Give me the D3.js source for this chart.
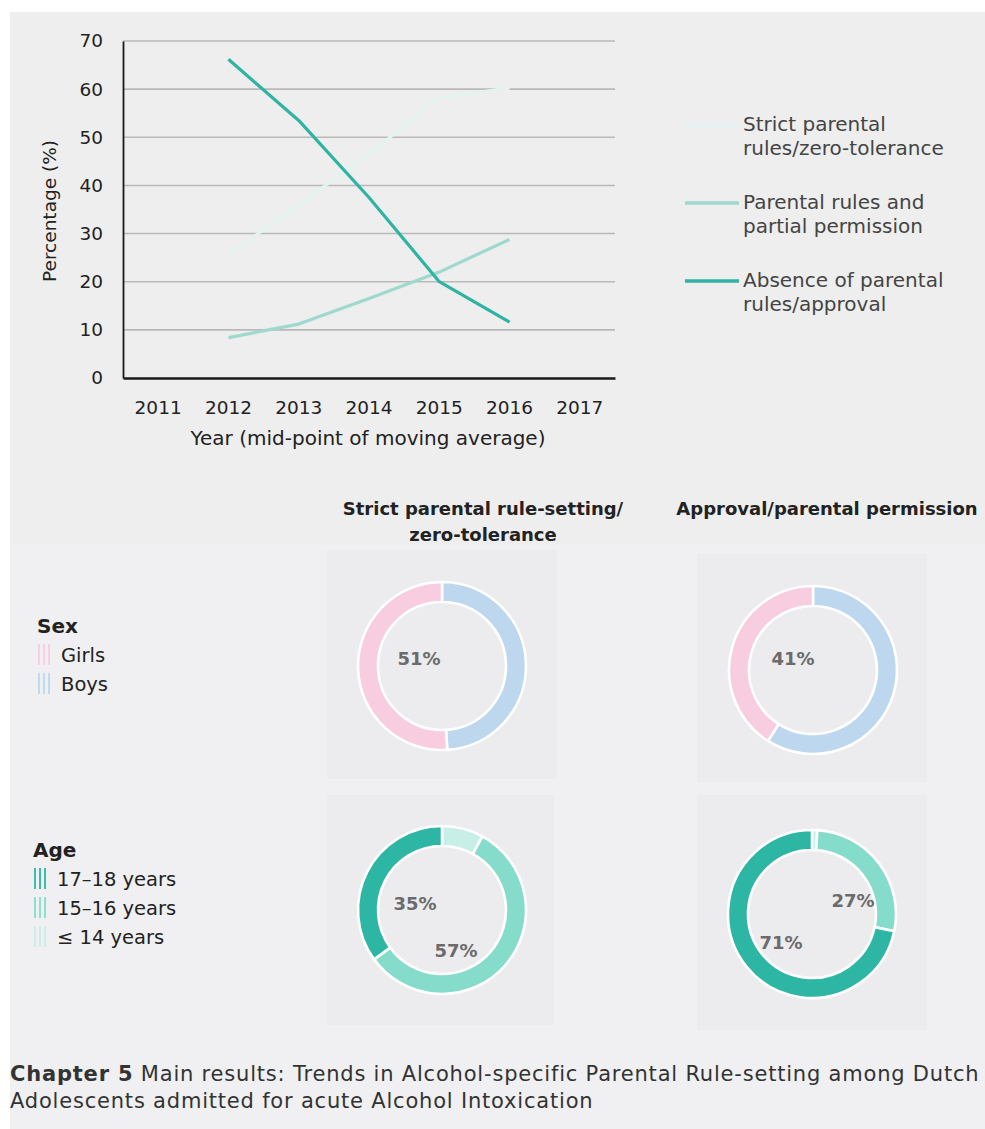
<!DOCTYPE html>
<html>
<head>
<meta charset="utf-8">
<script src="https://cdn.jsdelivr.net/npm/d3@7/dist/d3.min.js"></script>
<style>
  html, body { margin: 0; padding: 0; background: #ffffff; }
  svg { display: block; font-family: "DejaVu Sans", sans-serif; }
</style>
</head>
<body>
<svg id="chart" width="985" height="1129"></svg>
<script>
// ---- Trend data (3-year moving average, percentage of adolescents) ----
const axisYears = ["2011", "2012", "2013", "2014", "2015", "2016", "2017"];
const seriesYears = ["2012", "2013", "2014", "2015", "2016"];
const strictZeroTolerance = [25.6, 36, 46.5, 58.3, 60.2];
const partialPermission = [8.4, 11.2, 16.5, 22, 28.8];
const absenceOfRules = [66.2, 53.5, 37.5, 20, 11.6];
const yTickValues = [0, 10, 20, 30, 40, 50, 60, 70];
const seriesNames = [
  ["Strict parental", "rules/zero-tolerance"],
  ["Parental rules and", "partial permission"],
  ["Absence of parental", "rules/approval"]
];

// ---- Donut data ----
const sexCategories = ["Boys", "Girls"];          // clockwise from the top
const sexStrict = [49, 51];
const sexApproval = [59, 41];
const ageCategories = ["≤ 14 years", "15–16 years", "17–18 years"]; // clockwise from the top
const ageStrict = [8, 57, 35];
const ageApproval = [1, 27, 71];

const svg = d3.select("#chart");
const textDark = "#222222";

// ---- Backgrounds ----
svg.append("rect").attr("x", 10).attr("y", 12).attr("width", 975).attr("height", 533).attr("fill", "#eeeeee");
svg.append("rect").attr("x", 10).attr("y", 545).attr("width", 975).attr("height", 584).attr("fill", "#f0f0f2");

// ---- Line chart ----
const plot = { left: 123, right: 615, top: 41, bottom: 378 };
const x = d3.scaleBand().domain(axisYears).range([plot.left, plot.right]);
const y = d3.scaleLinear().domain([0, 70]).range([plot.bottom, plot.top]);
const lineColors = ["#e3f3ef", "#9fd9cd", "#2fb3a2"];

// gridlines
svg.append("g").selectAll("line").data(yTickValues.filter(v => v > 0)).join("line")
  .attr("x1", plot.left).attr("x2", plot.right)
  .attr("y1", d => y(d)).attr("y2", d => y(d))
  .attr("stroke", "#b9b9b9").attr("stroke-width", 1.6);

// axes
const yAxis = svg.append("g").attr("transform", `translate(${plot.left},0)`)
  .call(d3.axisLeft(y).tickValues(yTickValues).tickSize(0).tickPadding(20));
yAxis.select(".domain").attr("stroke", "#1a1a1a").attr("stroke-width", 1.8);
yAxis.selectAll("text").attr("font-size", 18.5).attr("fill", textDark).attr("font-family", "DejaVu Sans");

const xAxis = svg.append("g").attr("transform", `translate(0,${plot.bottom})`)
  .call(d3.axisBottom(x).tickSize(0).tickPadding(23));
xAxis.select(".domain").attr("stroke", "#1a1a1a").attr("stroke-width", 2.4);
xAxis.selectAll("text").attr("font-size", 18.5).attr("fill", textDark).attr("font-family", "DejaVu Sans");

// axis titles
svg.append("text").attr("x", (plot.left + plot.right) / 2 - 1).attr("y", 445)
  .attr("text-anchor", "middle").attr("font-size", 20).attr("fill", textDark)
  .text("Year (mid-point of moving average)");
svg.append("text").attr("transform", "translate(56,211) rotate(-90)")
  .attr("text-anchor", "middle").attr("font-size", 18.5).attr("fill", textDark)
  .text("Percentage (%)");

// series lines
const seriesValues = [strictZeroTolerance, partialPermission, absenceOfRules];
const line = d3.line()
  .x((d, i) => x(seriesYears[i]) + x.bandwidth() / 2)
  .y(d => y(d));
seriesValues.forEach((vals, k) => {
  svg.append("path").datum(vals).attr("d", line)
    .attr("fill", "none").attr("stroke", lineColors[k]).attr("stroke-width", 3.2)
    .attr("stroke-linejoin", "round");
});

// legend
const legendY = [125, 203, 281];
seriesNames.forEach((lines, k) => {
  const g = svg.append("g").attr("transform", `translate(685,${legendY[k]})`);
  g.append("line").attr("x1", 0).attr("x2", 54).attr("y1", 0).attr("y2", 0)
    .attr("stroke", lineColors[k]).attr("stroke-width", 3.5);
  lines.forEach((t, j) => {
    g.append("text").attr("x", 58).attr("y", 6 + j * 24)
      .attr("font-size", 20).attr("fill", "#444444").text(t);
  });
});

// ---- Donuts ----
const colHeaders = [
  { cx: 483, lines: ["Strict parental rule-setting/", "zero-tolerance"] },
  { cx: 827, lines: ["Approval/parental permission"] }
];
colHeaders.forEach(h => {
  h.lines.forEach((t, j) => {
    svg.append("text").attr("x", h.cx).attr("y", 515 + j * 26)
      .attr("text-anchor", "middle").attr("font-size", 18).attr("font-weight", 700)
      .attr("fill", textDark).text(t);
  });
});

const sexColor = d3.scaleOrdinal().domain(sexCategories).range(["#bdd7ee", "#f8cde0"]);
const ageColor = d3.scaleOrdinal().domain(ageCategories).range(["#c8eee8", "#86dccb", "#2db6a3"]);

const panels = [
  { box: [327, 550, 230, 229], cx: 442, cy: 666, cats: sexCategories, vals: sexStrict, color: sexColor,
    labels: [{ cat: "Girls", dx: -23, dy: -7 }] },
  { box: [697, 554, 230, 228], cx: 813, cy: 670, cats: sexCategories, vals: sexApproval, color: sexColor,
    labels: [{ cat: "Girls", dx: -20, dy: -11 }] },
  { box: [327, 795, 227, 230], cx: 442, cy: 910, cats: ageCategories, vals: ageStrict, color: ageColor,
    labels: [{ cat: "17–18 years", dx: -27, dy: -6 }, { cat: "15–16 years", dx: 14, dy: 41 }] },
  { box: [697, 795, 230, 235], cx: 812, cy: 914, cats: ageCategories, vals: ageApproval, color: ageColor,
    labels: [{ cat: "15–16 years", dx: 41, dy: -13 }, { cat: "17–18 years", dx: -31, dy: 29 }] }
];

const pie = d3.pie().sort(null).value(d => d.v);
const arc = d3.arc().innerRadius(64).outerRadius(84);

panels.forEach(p => {
  svg.append("rect").attr("x", p.box[0]).attr("y", p.box[1]).attr("width", p.box[2]).attr("height", p.box[3])
    .attr("fill", "#ececee");
  const g = svg.append("g").attr("transform", `translate(${p.cx},${p.cy})`);
  const data = p.cats.map((c, i) => ({ c, v: p.vals[i] }));
  g.selectAll("path").data(pie(data)).join("path")
    .attr("d", arc).attr("fill", d => p.color(d.data.c))
    .attr("stroke", "#ffffff").attr("stroke-width", 2.6).attr("stroke-linejoin", "round");
  p.labels.forEach(l => {
    const v = p.vals[p.cats.indexOf(l.cat)];
    g.append("text").attr("x", l.dx).attr("y", l.dy).attr("dy", "0.35em")
      .attr("text-anchor", "middle").attr("font-size", 18).attr("font-weight", 700)
      .attr("fill", "#6b6b6b").text(v + "%");
  });
});

// ---- Donut legends ----
function legendBlock(x0, y0, title, cats, color) {
  const g = svg.append("g");
  g.append("text").attr("x", x0).attr("y", y0).attr("font-size", 20).attr("font-weight", 700)
    .attr("fill", textDark).text(title);
  cats.forEach((c, i) => {
    const yy = y0 + 29 * (i + 1);
    [0, 5, 10].forEach(off => {
      g.append("line").attr("x1", x0 + 2 + off).attr("x2", x0 + 2 + off)
        .attr("y1", yy - 18).attr("y2", yy + 3)
        .attr("stroke", color(c)).attr("stroke-width", 1.8);
    });
    g.append("text").attr("x", x0 + 24).attr("y", yy).attr("font-size", 19.5)
      .attr("fill", textDark).text(c);
  });
}
legendBlock(37, 633, "Sex", ["Girls", "Boys"], sexColor);
legendBlock(33, 857, "Age", ["17–18 years", "15–16 years", "≤ 14 years"], ageColor);

// ---- Caption ----
const caption = svg.append("text").attr("x", 10).attr("y", 1080.5).attr("font-size", 21)
  .attr("letter-spacing", 0.8).attr("fill", "#333333");
caption.append("tspan").attr("font-weight", 700).text("Chapter 5");
caption.append("tspan").text(" Main results: Trends in Alcohol-specific Parental Rule-setting among Dutch");
svg.append("text").attr("x", 10).attr("y", 1108).attr("font-size", 21)
  .attr("letter-spacing", 0.8).attr("fill", "#333333")
  .text("Adolescents admitted for acute Alcohol Intoxication");
</script>
</body>
</html>
